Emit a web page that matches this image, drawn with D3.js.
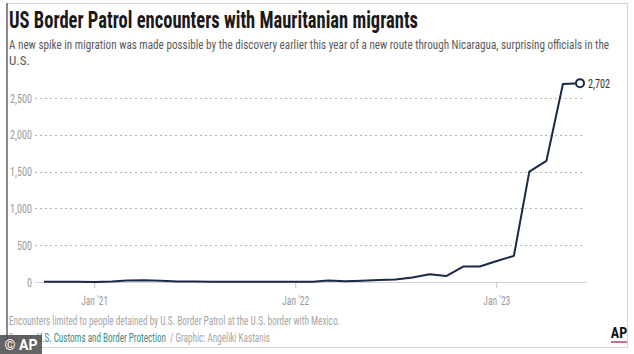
<!DOCTYPE html>
<html>
<head>
<meta charset="utf-8">
<script src="https://cdn.jsdelivr.net/npm/d3@7"></script>
<style>
  body { margin: 0; background: #fff; }
  svg { display: block; }
  text { font-family: "Liberation Sans Narrow", "Roboto Condensed", "DejaVu Sans Condensed", "Roboto", sans-serif; }
</style>
</head>
<body>
<div id="chart"></div>
<script>
// monthly encounters, Oct 2020 .. Jun 2023
const months = [
	'2020-10', '2020-11', '2020-12',
	'2021-01', '2021-02', '2021-03', '2021-04', '2021-05', '2021-06',
	'2021-07', '2021-08', '2021-09', '2021-10', '2021-11', '2021-12',
	'2022-01', '2022-02', '2022-03', '2022-04', '2022-05', '2022-06',
	'2022-07', '2022-08', '2022-09', '2022-10', '2022-11', '2022-12',
	'2023-01', '2023-02', '2023-03', '2023-04', '2023-05', '2023-06',
];
const encounters = [
	5, 3, 2,
	0, 8, 20, 24, 18, 8,
	6, 5, 5, 5, 5, 5,
	3, 2, 22, 10, 18, 28,
	35, 60, 105, 80, 210, 210,
	286, 355, 1500, 1645, 2690, 2702,
];
const yTicks = [ 0, 500, 1000, 1500, 2000, 2500 ];
const xTicks = [ '2021-01', '2022-01', '2023-01' ];

const title = 'US Border Patrol encounters with Mauritanian migrants';
const subtitle = [
	'A new spike in migration was made possible by the discovery earlier this year of a new route through Nicaragua, surprising officials in the',
	'U.S.',
];
const note = 'Encounters limited to people detained by U.S. Border Patrol at the U.S. border with Mexico.';
const source = [ 'Source:', 'U.S. Customs and Border Protection', '/ Graphic: Angeliki Kastanis' ];

const width = 634;
const height = 354;
const parse = d3.timeParse( '%Y-%m' );
const data = months.map( ( m, i ) => ( { date: parse( m ), value: encounters[ i ] } ) );

const svg = d3.select( '#chart' )
	.append( 'svg' )
	.attr( 'width', width )
	.attr( 'height', height );

// squeeze a text element to a target width
function fit( sel, w ) {
	const len = sel.node().getComputedTextLength();
	if ( Math.abs( len - w ) > 1 ) {
		sel.attr( 'textLength', w ).attr( 'lengthAdjust', 'spacingAndGlyphs' );
	}
	return sel;
}

// dot pattern for the gridlines
svg.append( 'defs' )
	.append( 'pattern' )
	.attr( 'id', 'dots' )
	.attr( 'patternUnits', 'userSpaceOnUse' )
	.attr( 'width', 5 ).attr( 'height', 2 )
	.append( 'rect' )
	.attr( 'width', 2 ).attr( 'height', 2 )
	.attr( 'fill', '#b4b4b4' );

// frame
svg.append( 'rect' )
	.attr( 'x', 7 ).attr( 'y', 3.5 )
	.attr( 'width', 620.5 ).attr( 'height', 344 )
	.attr( 'fill', 'none' )
	.attr( 'stroke', '#d6d6d6' );
svg.append( 'line' )
	.attr( 'x1', 7 ).attr( 'x2', 7 )
	.attr( 'y1', 3 ).attr( 'y2', 348 )
	.attr( 'stroke', '#8a8a8a' )
	.attr( 'stroke-width', 2 );

// header
fit( svg.append( 'text' )
	.attr( 'x', 9 ).attr( 'y', 28 )
	.attr( 'font-size', 24 )
	.attr( 'font-weight', 'bold' )
	.attr( 'fill', '#1a1a1a' )
	.text( title ), 409 );

subtitle.forEach( ( line, i ) => {
	const t = svg.append( 'text' )
		.attr( 'x', 9 ).attr( 'y', 49 + i * 16 )
		.attr( 'font-size', 13 )
		.attr( 'fill', '#5a5a5a' )
		.text( line );
	if ( i === 0 ) {
		fit( t, 600 );
	}
} );

// scales
const x = d3.scaleTime()
	.domain( d3.extent( data, ( d ) => d.date ) )
	.range( [ 44, 580 ] );
const y = d3.scaleLinear()
	.domain( [ 0, 2500 ] )
	.range( [ 282, 98 ] );

// dotted gridlines
svg.append( 'g' )
	.selectAll( 'rect' )
	.data( yTicks.filter( ( d ) => d > 0 ) )
	.enter()
	.append( 'rect' )
	.attr( 'x', 35 )
	.attr( 'y', ( d ) => Math.round( y( d ) ) )
	.attr( 'width', 549 )
	.attr( 'height', 1 )
	.attr( 'fill', 'url(#dots)' );

// y labels
const yLabels = svg.append( 'g' ).selectAll( 'text' )
	.data( yTicks )
	.enter()
	.append( 'text' )
	.attr( 'x', 32 )
	.attr( 'y', ( d ) => y( d ) + 4.5 )
	.attr( 'text-anchor', 'end' )
	.attr( 'font-size', 12.5 )
	.attr( 'fill', '#9a9a9a' )
	.text( ( d ) => d3.format( ',' )( d ) );
const squeeze = 22 / yLabels.filter( ( d ) => d === 2500 ).node().getComputedTextLength();
yLabels.each( function () {
	fit( d3.select( this ), this.getComputedTextLength() * squeeze );
} );

// baseline
svg.append( 'line' )
	.attr( 'x1', 35 ).attr( 'x2', 587 )
	.attr( 'y1', Math.round( y( 0 ) ) + 0.5 ).attr( 'y2', Math.round( y( 0 ) ) + 0.5 )
	.attr( 'stroke', '#cfd3d8' )
	.attr( 'stroke-width', 1 );

// x ticks
const xAxis = svg.append( 'g' );
xTicks.forEach( ( m ) => {
	const d = parse( m );
	xAxis.append( 'line' )
		.attr( 'x1', x( d ) ).attr( 'x2', x( d ) )
		.attr( 'y1', y( 0 ) ).attr( 'y2', y( 0 ) + 6 )
		.attr( 'stroke', '#c4c4c4' );
	fit( xAxis.append( 'text' )
		.attr( 'x', x( d ) )
		.attr( 'y', 305 )
		.attr( 'text-anchor', 'middle' )
		.attr( 'font-size', 12.5 )
		.attr( 'fill', '#9a9a9a' )
		.text( d3.timeFormat( "%b '%y" )( d ) ), 27 );
} );

// line
const line = d3.line()
	.x( ( d ) => x( d.date ) )
	.y( ( d ) => y( d.value ) );

svg.append( 'path' )
	.datum( data )
	.attr( 'd', line )
	.attr( 'fill', 'none' )
	.attr( 'stroke', '#1b2a44' )
	.attr( 'stroke-width', 2 )
	.attr( 'stroke-linejoin', 'round' );

const last = data[ data.length - 1 ];
svg.append( 'circle' )
	.attr( 'cx', x( last.date ) )
	.attr( 'cy', y( last.value ) )
	.attr( 'r', 4 )
	.attr( 'fill', '#fff' )
	.attr( 'stroke', '#1b2a44' )
	.attr( 'stroke-width', 2 );
fit( svg.append( 'text' )
	.attr( 'x', x( last.date ) + 8 )
	.attr( 'y', y( last.value ) + 4.5 )
	.attr( 'font-size', 12.5 )
	.attr( 'fill', '#333' )
	.text( d3.format( ',' )( last.value ) ), 22 );

// footer
fit( svg.append( 'text' )
	.attr( 'x', 9 ).attr( 'y', 325 )
	.attr( 'font-size', 12 )
	.attr( 'fill', '#a6a6a6' )
	.text( note ), 331 );

const srcX = [ 9, 37, 170 ];
const srcW = [ 25, 129, 100 ];
const srcFill = [ '#a6a6a6', '#3f8a85', '#a6a6a6' ];
source.forEach( ( s, i ) => {
	fit( svg.append( 'text' )
		.attr( 'x', srcX[ i ] ).attr( 'y', 342 )
		.attr( 'font-size', 12 )
		.attr( 'fill', srcFill[ i ] )
		.text( s ), srcW[ i ] );
} );

// AP logo
svg.append( 'text' )
	.attr( 'x', 619 ).attr( 'y', 338 )
	.attr( 'text-anchor', 'middle' )
	.attr( 'font-size', 14 )
	.attr( 'font-weight', 'bold' )
	.attr( 'fill', '#111' )
	.text( 'AP' );
svg.append( 'line' )
	.attr( 'x1', 611 ).attr( 'x2', 627 )
	.attr( 'y1', 342 ).attr( 'y2', 342 )
	.attr( 'stroke', '#c23a5e' )
	.attr( 'stroke-width', 1.5 );

// watermark
svg.append( 'rect' )
	.attr( 'x', 0 ).attr( 'y', 335 )
	.attr( 'width', 42 ).attr( 'height', 19 )
	.attr( 'fill', '#4a4a4a' )
	.attr( 'fill-opacity', 0.85 );
svg.append( 'text' )
	.attr( 'x', 21 ).attr( 'y', 350 )
	.attr( 'text-anchor', 'middle' )
	.attr( 'font-size', 14 )
	.attr( 'font-weight', 'bold' )
	.attr( 'fill', '#fff' )
	.style( 'font-family', 'Roboto, sans-serif' )
	.text( '© AP' );
</script>
</body>
</html>
